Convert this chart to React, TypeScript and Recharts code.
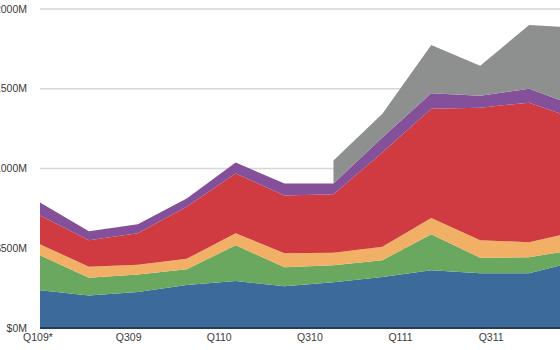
import React from 'react';
import { AreaChart, Area, XAxis, YAxis, CartesianGrid } from 'recharts';

const quarters = ['Q109', 'Q209', 'Q309', 'Q409', 'Q110', 'Q210', 'Q310', 'Q410', 'Q111', 'Q211', 'Q311', 'Q411'];
const axisLabels = ['Q109*', 'Q309', 'Q110', 'Q310', 'Q111', 'Q311'];
const yTicks = [0, 500, 1000, 1500, 2000];

const blueSeries = [237, 203, 225, 269, 294, 262, 287, 319, 362, 344, 344, 419];
const greenSeries = [219, 112, 110, 99, 225, 119, 107, 106, 226, 96, 100, 75];
const orangeSeries = [69, 69, 61, 66, 75, 88, 78, 85, 102, 110, 94, 112];
const redSeries = [181, 166, 198, 326, 375, 362, 366, 590, 685, 831, 875, 700];
const purpleSeries = [81, 56, 56, 52, 68, 75, 68, 94, 97, 75, 87, 82];
const graySeries: (number | null)[] = [null, null, null, null, null, null, 144, 150, 303, 188, 400, 493];

const data = quarters.map((q, i) => ({
  q,
  idx: i,
  blue: blueSeries[i],
  green: greenSeries[i],
  orange: orangeSeries[i],
  red: redSeries[i],
  purple: purpleSeries[i],
  gray: graySeries[i],
}));

// the reference's category labels sit slightly tighter than the data points
const labelStep = 1.853;
const labelTicks = axisLabels.map((_, k) => k * labelStep);

const tickStyle = { fontFamily: '"Liberation Sans", Arial, sans-serif', fontSize: 10.5, fill: '#3a3a3a' };

export default function App() {
  return (
    <div style={{ position: 'absolute', left: 0, top: 0, width: 560, height: 350, overflow: 'hidden', background: '#fff' }}>
      <AreaChart width={600} height={350} data={data} margin={{ top: 9, right: 22, bottom: 0, left: 0 }}>
        <CartesianGrid horizontal vertical={false} stroke="#d6d6d6" strokeWidth={1.5} />
        <XAxis
          dataKey="idx"
          type="number"
          domain={[0, 11]}
          ticks={labelTicks}
          tickFormatter={(v: number) => axisLabels[Math.round(v / labelStep)] ?? ''}
          interval={0}
          tickLine={false}
          tickSize={0}
          tickMargin={6}
          height={22}
          axisLine={false}
          tick={{ ...tickStyle, dx: -2 }}
        />
        <YAxis
          width={40}
          domain={[0, 2000]}
          ticks={yTicks}
          tickFormatter={(v: number) => `$${v}M`}
          axisLine={false}
          tickLine={false}
          tickSize={0}
          tickMargin={13}
          tick={tickStyle}
        />
        <Area type="linear" dataKey="blue" stackId="s" stroke="none" fill="#3b6a9b" fillOpacity={1} isAnimationActive={false} />
        <Area type="linear" dataKey="green" stackId="s" stroke="none" fill="#6aa85f" fillOpacity={1} isAnimationActive={false} />
        <Area type="linear" dataKey="orange" stackId="s" stroke="none" fill="#f2b066" fillOpacity={1} isAnimationActive={false} />
        <Area type="linear" dataKey="red" stackId="s" stroke="none" fill="#cf3b41" fillOpacity={1} isAnimationActive={false} />
        <Area type="linear" dataKey="purple" stackId="s" stroke="none" fill="#85509a" fillOpacity={1} isAnimationActive={false} />
        <Area type="linear" dataKey="gray" stackId="s" stroke="none" fill="#8e908f" fillOpacity={1} isAnimationActive={false} />
      </AreaChart>
      <div style={{ position: 'absolute', left: 40, top: 327, width: 520, height: 2, background: '#2a3c50' }} />
    </div>
  );
}
